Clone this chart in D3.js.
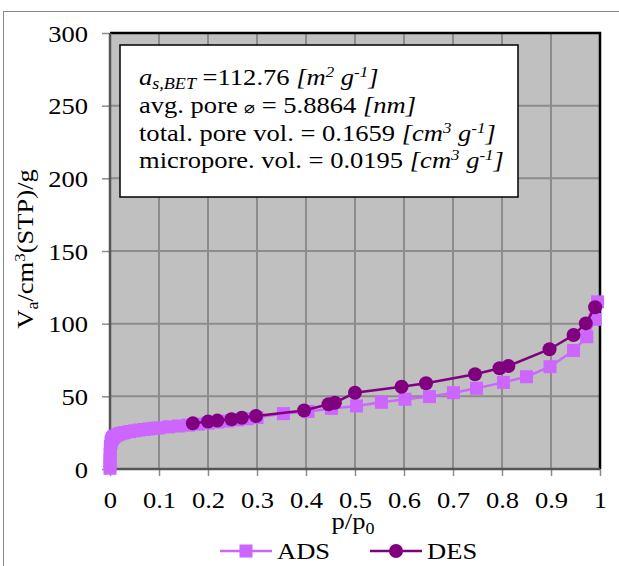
<!DOCTYPE html>
<html><head><meta charset="utf-8">
<script src="https://cdn.jsdelivr.net/npm/d3@7"></script>
<style>body{margin:0;background:#fff}svg{display:block}</style>
</head><body>
<svg id="c" width="619" height="566"></svg>
<script>
const xTicks = [0, 0.1, 0.2, 0.3, 0.4, 0.5, 0.6, 0.7, 0.8, 0.9, 1];
const xTickLabels = ["0", "0.1", "0.2", "0.3", "0.4", "0.5", "0.6", "0.7", "0.8", "0.9", "1"];
const yTicks = [0, 50, 100, 150, 200, 250, 300];
const adsP = [0.00001, 0.00005, 0.0001, 0.0003, 0.0006, 0.001, 0.002, 0.003, 0.005, 0.007, 0.01, 0.015, 0.02, 0.025, 0.03, 0.04, 0.05, 0.06, 0.07, 0.08, 0.09, 0.1, 0.12, 0.14, 0.16, 0.18, 0.2, 0.22, 0.24, 0.26, 0.28, 0.3, 0.354, 0.404, 0.452, 0.503, 0.554, 0.602, 0.652, 0.701, 0.748, 0.803, 0.85, 0.898, 0.946, 0.973, 0.99, 0.995];
const adsV = [0.5, 3, 6, 10, 13, 15.5, 18, 19.5, 21, 21.8, 22.6, 23.5, 24.2, 24.7, 25.1, 25.8, 26.3, 26.8, 27.2, 27.6, 28, 28.3, 29, 29.6, 30.2, 30.9, 31.6, 32.3, 33, 33.8, 34.6, 35.4, 38.1, 39.6, 41.7, 43.4, 45.9, 48, 49.8, 52.5, 55.5, 59.6, 63.5, 70.4, 81.5, 91, 103, 115];
const desP = [0.99, 0.971, 0.946, 0.897, 0.813, 0.795, 0.745, 0.645, 0.595, 0.5, 0.459, 0.446, 0.396, 0.298, 0.269, 0.248, 0.219, 0.2, 0.169];
const desV = [111.3, 100.2, 92.2, 82.4, 70.9, 69.3, 65.2, 59, 56.6, 52.5, 45.6, 44.6, 40.3, 36.5, 35.3, 34.2, 33.3, 32.6, 31.4];
const seriesNames = ["ADS", "DES"];
const adsColor = "#cc66ff", desColor = "#800080";
const FONT = "Liberation Serif";
const FS = 23.5, SX = 1.13;

const svg = d3.select("#c");
const x = d3.scaleLinear().domain([0, 1]).range([110, 600]);
const y = d3.scaleLinear().domain([0, 300]).range([469, 33]);

// outer chart border
svg.append("rect").attr("x", 3.5).attr("y", 11.5).attr("width", 640).attr("height", 600)
  .attr("fill", "none").attr("stroke", "#888").attr("stroke-width", 1);

// plot bg
svg.append("rect").attr("x", x(0)).attr("y", y(300)).attr("width", x(1) - x(0)).attr("height", y(0) - y(300)).attr("fill", "#c0c0c0");

// gridlines
svg.append("g").selectAll("line").data(xTicks.slice(1, -1)).join("line")
  .attr("x1", d => x(d)).attr("x2", d => x(d)).attr("y1", y(300)).attr("y2", y(0))
  .attr("stroke", "#8c8c8c").attr("stroke-width", 2);
svg.append("g").selectAll("line").data(yTicks.slice(1, -1)).join("line")
  .attr("y1", d => y(d)).attr("y2", d => y(d)).attr("x1", x(0)).attr("x2", x(1))
  .attr("stroke", "#8c8c8c").attr("stroke-width", 2);

// border top/right black
svg.append("path").attr("d", `M${x(0)},${y(300)}H${x(1)}V${y(0)}`).attr("fill", "none").attr("stroke", "#000").attr("stroke-width", 2.5);

// axes
const xAxis = d3.axisBottom(x).tickValues(xTicks).tickSize(7).tickFormat((d, i) => xTickLabels[i]);
const gx = svg.append("g").attr("transform", `translate(0,${y(0)})`).call(xAxis);
gx.attr("font-family", FONT);
gx.selectAll(".tick line").attr("stroke", "#8c8c8c").attr("stroke-width", 1.5);
gx.selectAll(".tick text").attr("font-size", FS).attr("fill", "#000").attr("y", 0).attr("dy", 0)
  .attr("transform", `translate(0,39) scale(${SX},1)`).style("font-family", FONT);

const yAxis = d3.axisLeft(y).tickValues(yTicks).tickSize(8);
const gy = svg.append("g").attr("transform", `translate(${x(0)},0)`).call(yAxis);
gy.attr("font-family", FONT);
gy.selectAll(".tick line").attr("stroke", "#8c8c8c").attr("stroke-width", 1.5);
gy.selectAll(".tick text").attr("font-size", FS).attr("fill", "#000").attr("x", 0).attr("dy", "0.35em")
  .attr("transform", `translate(-22,0) scale(${SX},1)`).style("font-family", FONT);
gx.select(".domain").remove(); gy.select(".domain").remove();
svg.append("line").attr("x1", x(0)).attr("x2", x(1)).attr("y1", y(0)).attr("y2", y(0)).attr("stroke", "#555").attr("stroke-width", 2.5);
svg.append("line").attr("x1", x(0)).attr("x2", x(0)).attr("y1", y(0)).attr("y2", y(300)).attr("stroke", "#555").attr("stroke-width", 2.5);

// series
const ads = adsP.map((p, i) => [p, adsV[i]]);
const des = desP.map((p, i) => [p, desV[i]]);
const line = d3.line().x(d => x(d[0])).y(d => y(d[1]));
svg.append("path").datum(ads).attr("d", line).attr("fill", "none").attr("stroke", adsColor).attr("stroke-width", 2.5);
svg.append("g").selectAll("rect").data(ads).join("rect")
  .attr("x", d => x(d[0]) - 6.5).attr("y", d => y(d[1]) - 6.5).attr("width", 13).attr("height", 13).attr("fill", adsColor);
svg.append("path").datum(des).attr("d", line).attr("fill", "none").attr("stroke", desColor).attr("stroke-width", 2.5);
svg.append("g").selectAll("circle").data(des).join("circle")
  .attr("cx", d => x(d[0])).attr("cy", d => y(d[1])).attr("r", 7).attr("fill", desColor);

// annotation box
svg.append("rect").attr("x", 120).attr("y", 45).attr("width", 398).attr("height", 152)
  .attr("fill", "#fff").attr("stroke", "#000").attr("stroke-width", 1.5);
const tx = 139;
function T(xx, yy, size, extra) {
  return svg.append("text").attr("x", 0).attr("y", 0)
    .attr("transform", `translate(${xx},${yy}) ${extra || ""} scale(${SX},1)`)
    .attr("font-size", size).style("font-family", FONT).attr("fill", "#000");
}
const SUB = 16, SUP = 15;
const t1 = T(tx, 85, FS);
t1.append("tspan").attr("font-style", "italic").text("a");
t1.append("tspan").attr("font-style", "italic").attr("font-size", SUB).attr("dy", 4).text("s,BET");
t1.append("tspan").attr("dy", -4).text(" =112.76 ");
t1.append("tspan").attr("font-style", "italic").text("[m");
t1.append("tspan").attr("font-style", "italic").attr("font-size", SUP).attr("dy", -8).text("2");
t1.append("tspan").attr("font-style", "italic").attr("dy", 8).text(" g");
t1.append("tspan").attr("font-style", "italic").attr("font-size", SUP).attr("dy", -8).text("-1");
t1.append("tspan").attr("font-style", "italic").attr("dy", 8).text("]");

const t2 = T(tx, 113, FS);
t2.append("tspan").text("avg. pore ");
t2.append("tspan").attr("font-size", 16).text("\u2300");
t2.append("tspan").text(" = 5.8864 ");
t2.append("tspan").attr("font-style", "italic").text("[nm]");

function volLine(yy, label) {
  const t = T(tx, yy, FS);
  t.append("tspan").text(label + " ");
  t.append("tspan").attr("font-style", "italic").text("[cm");
  t.append("tspan").attr("font-style", "italic").attr("font-size", SUP).attr("dy", -8).text("3");
  t.append("tspan").attr("font-style", "italic").attr("dy", 8).text(" g");
  t.append("tspan").attr("font-style", "italic").attr("font-size", SUP).attr("dy", -8).text("-1");
  t.append("tspan").attr("font-style", "italic").attr("dy", 8).text("]");
}
volLine(141, "total. pore vol. = 0.1659");
volLine(168, "micropore. vol. = 0.0195");

// x axis title
const xt = T(353, 529, FS).attr("text-anchor", "middle");
xt.append("tspan").text("p/p");
xt.append("tspan").attr("font-size", SUB).attr("dy", 5).text("0");

// y axis title
const yt = T(33, 249, FS, "rotate(-90)").attr("text-anchor", "middle");
yt.append("tspan").text("V");
yt.append("tspan").attr("font-size", SUB).attr("dy", 5).text("a");
yt.append("tspan").attr("dy", -5).text("/cm");
yt.append("tspan").attr("font-size", SUP).attr("dy", -8).text("3");
yt.append("tspan").attr("dy", 8).text("(STP)/g");

// legend
const leg = [
  {name: seriesNames[0], color: adsColor, x0: 220, shape: "rect"},
  {name: seriesNames[1], color: desColor, x0: 370, shape: "circle"}
];
leg.forEach(l => {
  const cy = 551;
  svg.append("line").attr("x1", l.x0).attr("x2", l.x0 + 52).attr("y1", cy).attr("y2", cy).attr("stroke", l.color).attr("stroke-width", 2.5);
  if (l.shape === "rect") svg.append("rect").attr("x", l.x0 + 26 - 6.5).attr("y", cy - 6.5).attr("width", 13).attr("height", 13).attr("fill", l.color);
  else svg.append("circle").attr("cx", l.x0 + 26).attr("cy", cy).attr("r", 7).attr("fill", l.color);
  T(l.x0 + 57, 559, FS).text(l.name);
});
</script>
</body></html>
